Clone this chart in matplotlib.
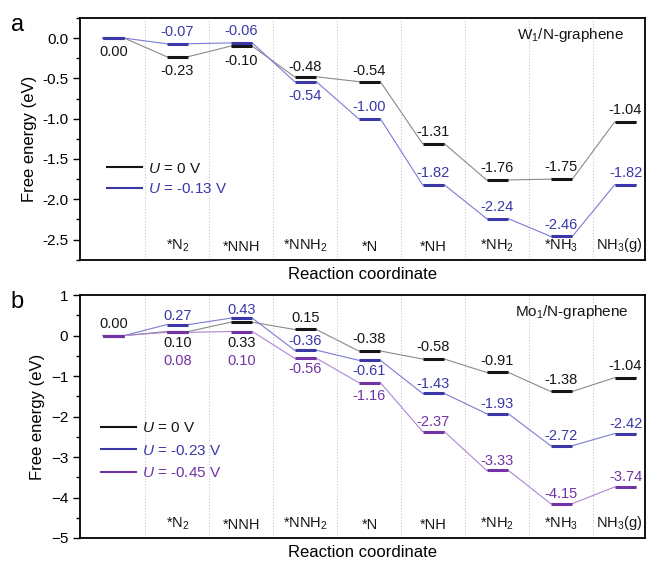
import matplotlib.pyplot as plt
from matplotlib.lines import Line2D
from matplotlib.ticker import MultipleLocator

plt.rcParams['font.family'] = ['Liberation Sans', 'DejaVu Sans']
plt.rcParams['mathtext.fontset'] = 'custom'
plt.rcParams['mathtext.rm'] = 'Liberation Sans'
plt.rcParams['mathtext.it'] = 'Liberation Sans:italic'

steps = ['', '*N$_2$', '*NNH', '*NNH$_2$', '*N', '*NH', '*NH$_2$', '*NH$_3$', 'NH$_3$(g)']

# panel a: W1/N-graphene
w_u0 = [0.00, -0.23, -0.10, -0.48, -0.54, -1.31, -1.76, -1.75, -1.04]
w_u013 = [0.00, -0.07, -0.06, -0.54, -1.00, -1.82, -2.24, -2.46, -1.82]
# panel b: Mo1/N-graphene
mo_u0 = [0.00, 0.10, 0.33, 0.15, -0.38, -0.58, -0.91, -1.38, -1.04]
mo_u023 = [0.00, 0.27, 0.43, -0.36, -0.61, -1.43, -1.93, -2.72, -2.42]
mo_u045 = [0.00, 0.08, 0.10, -0.56, -1.16, -2.37, -3.33, -4.15, -3.74]

BLACK = '#151515'
BLUE = '#3a38a8'
PURPLE = '#7233a6'
LIGHT = {BLACK: '#8a8a8a', BLUE: '#7b7bd6', PURPLE: '#ad86d6'}

# label offsets in points (positive = above the level), None = no label
w_off0 = [-10, -10.5, -10.5, 7, 8, 8.5, 8.5, 8.5, 8.5]
w_off1 = [None, 8.5, 8.5, -10.5, 8.5, 8.5, 8.5, 8.5, 8.5]
mo_off0 = [8.5, -8, -15, 8, 8.5, 8.5, 8.5, 8.5, 8.5]
mo_off1 = [None, 6, 6, 6.5, -7.5, 7, 7, 7, 7]
mo_off2 = [None, -20.5, -21.5, -8, -9.5, 7, 7, 7, 7]

hw = 0.17


def draw_series(ax, vals, color, offs):
    xs, ys = [], []
    for i, v in enumerate(vals):
        xs += [i - hw, i + hw]
        ys += [v, v]
    ax.plot(xs, ys, color=LIGHT[color], lw=0.8, zorder=2)
    ax.hlines(vals, [i - hw for i in range(len(vals))],
              [i + hw for i in range(len(vals))], color=color, lw=2.2, zorder=3)
    for i, (v, o) in enumerate(zip(vals, offs)):
        if o is None:
            continue
        ax.annotate('%.2f' % v, (i, v), xytext=(0, o), textcoords='offset points',
                    ha='center', va='center', fontsize=10.5, color=color)


def setup(ax, ylim, major, minor, title, tx, letter):
    ax.set_xlim(-0.52, 8.3)
    ax.set_ylim(*ylim)
    ax.set_xticks([])
    ax.yaxis.set_major_locator(MultipleLocator(major))
    ax.yaxis.set_minor_locator(MultipleLocator(minor))
    ax.tick_params(axis='y', which='major', length=5, width=1, labelsize=11)
    ax.tick_params(axis='y', which='minor', length=3, width=1)
    for s in ax.spines.values():
        s.set_linewidth(1.3)
    for i in range(8):
        ax.axvline(i + 0.5, color='#c8c8c8', lw=0.8, ls=':', zorder=1)
    for i, s in enumerate(steps):
        x = i - 0.1 if i == len(steps) - 1 else i
        ax.text(x, 0.025, s, transform=ax.get_xaxis_transform(), ha='center',
                va='bottom', fontsize=10.5, color=BLACK)
    ax.text(tx, 0.93, title, transform=ax.transAxes, ha='right', va='center',
            fontsize=11, color=BLACK)
    ax.set_ylabel('Free energy (eV)', fontsize=12, labelpad=4)
    ax.set_xlabel('Reaction coordinate', fontsize=12, labelpad=5)
    ax.text(-0.123, 0.97, letter, transform=ax.transAxes, fontsize=17, va='center')


fig = plt.figure(figsize=(6.46, 5.61), dpi=100)
ax1 = fig.add_axes([0.124, 0.537, 0.874, 0.431])
ax2 = fig.add_axes([0.124, 0.041, 0.874, 0.433])

setup(ax1, (-2.75, 0.25), 0.5, 0.25, 'W$_1$/N-graphene', 0.963, 'a')
ax1.yaxis.set_major_formatter(plt.FormatStrFormatter('%.1f'))
draw_series(ax1, w_u0, BLACK, w_off0)
draw_series(ax1, w_u013, BLUE, w_off1)
h1 = [Line2D([], [], color=c, lw=1.5) for c in (BLACK, BLUE)]
ax1.legend(h1, ['$U$ = 0 V', '$U$ = -0.13 V'], loc='upper left',
           bbox_to_anchor=(0.047, 0.405), frameon=False, fontsize=11,
           handlelength=2.3, handletextpad=0.4, labelspacing=0.4,
           borderpad=0, borderaxespad=0, labelcolor=[BLACK, BLUE])

setup(ax2, (-5, 1), 1, 0.5, 'Mo$_1$/N-graphene', 0.972, 'b')
draw_series(ax2, mo_u0, BLACK, mo_off0)
draw_series(ax2, mo_u023, BLUE, mo_off1)
draw_series(ax2, mo_u045, PURPLE, mo_off2)
h2 = [Line2D([], [], color=c, lw=1.5) for c in (BLACK, BLUE, PURPLE)]
ax2.legend(h2, ['$U$ = 0 V', '$U$ = -0.23 V', '$U$ = -0.45 V'], loc='upper left',
           bbox_to_anchor=(0.037, 0.48), frameon=False, fontsize=11,
           handlelength=2.3, handletextpad=0.4, labelspacing=0.55,
           borderpad=0, borderaxespad=0, labelcolor=[BLACK, BLUE, PURPLE])

fig.savefig('out.png', dpi=100)
